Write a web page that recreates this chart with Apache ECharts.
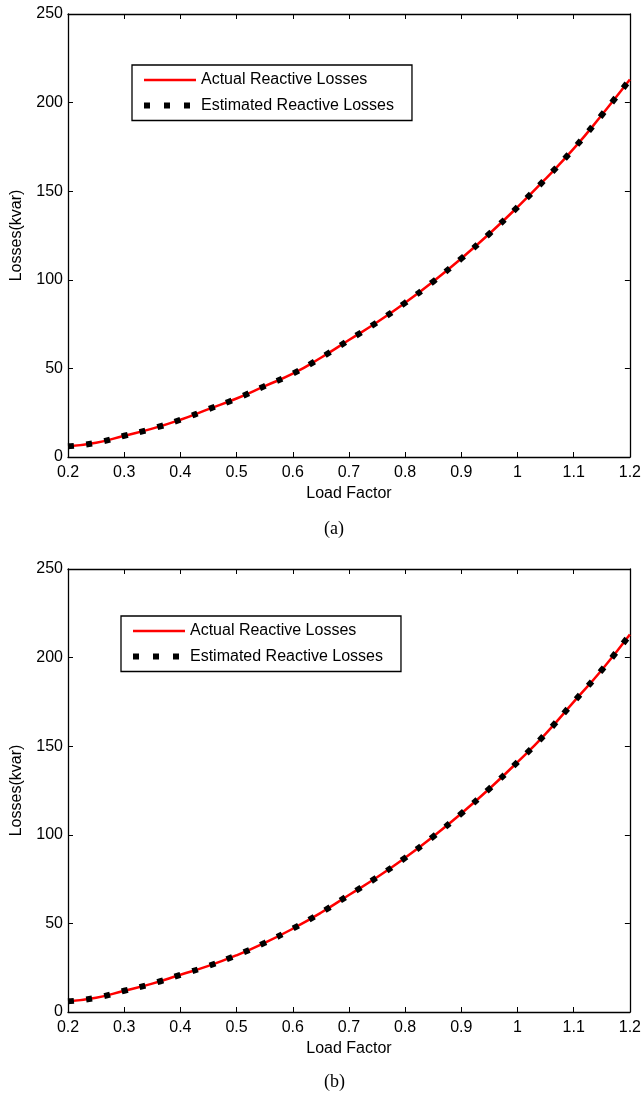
<!DOCTYPE html>
<html>
<head>
<meta charset="utf-8">
<script src="https://cdn.jsdelivr.net/npm/echarts@6/dist/echarts.min.js"></script>
<style>
html,body{margin:0;padding:0;background:#fff;}
#chart{width:644px;height:1095px;}
</style>
</head>
<body>
<div id="chart"></div>
<script>
// ---- data ----
const loadFactor = [0.2,0.25,0.3,0.35,0.4,0.45,0.5,0.55,0.6,0.65,0.7,0.75,0.8,0.85,0.9,0.95,1.0,1.05,1.1,1.15,1.2];
const actualA    = [6,8,12,16,21,27,33,40,47,56,66,76,87,99,112,126,141,157,174,193,213];
const estimatedA = [6,8,12,16,21,27,33,40,47,56,66,76,87,99,112,126,141,157,174,193,213];
const actualB    = [6,8,12,16,21,26,32,39,47,56,66,76,87,99,112,126,141,157,175,193,213];
const estimatedB = [6,8,12,16,21,26,32,39,47,56,66,76,87,99,112,126,141,157,175,193,213];
const xTicks = {min:0.2, max:1.2, interval:0.1};
const yTicks = {min:0, max:250, interval:50};
const nameActual = 'Actual Reactive Losses';
const nameEstimated = 'Estimated Reactive Losses';
const panelLabels = ['(a)', '(b)'];

const pairs = (xs, ys) => xs.map((x, i) => [x, ys[i]]);
const FONT = 'Liberation Sans, Arial, sans-serif';

const grids = [
  {left:68, right:13, top:14, height:443},
  {left:68, right:13, top:569, height:443}
];

const xAxes = [], yAxes = [];
grids.forEach((g, gi) => {
  const common = {
    type:'value', gridIndex:gi,
    axisLine:{show:true, onZero:false, lineStyle:{color:'#000', width:1.3}},
    axisTick:{show:true, inside:true, length:5, lineStyle:{color:'#000', width:1}},
    splitLine:{show:false}
  };
  xAxes.push(Object.assign({}, common, {
    position:'bottom', min:xTicks.min, max:xTicks.max, interval:xTicks.interval,
    axisLabel:{color:'#000', fontSize:16, fontFamily:FONT, margin:8},
    name:'Load Factor', nameLocation:'middle', nameGap:29,
    nameTextStyle:{color:'#000', fontSize:16, fontFamily:FONT}
  }));
  xAxes.push(Object.assign({}, common, {
    position:'top', min:xTicks.min, max:xTicks.max, interval:xTicks.interval,
    axisLabel:{show:false}
  }));
  yAxes.push(Object.assign({}, common, {
    position:'left', min:yTicks.min, max:yTicks.max, interval:yTicks.interval,
    axisLabel:{color:'#000', fontSize:16, fontFamily:FONT, margin:5},
    name:'Losses(kvar)', nameLocation:'middle', nameGap:43,
    nameTextStyle:{color:'#000', fontSize:16, fontFamily:FONT}
  }));
  yAxes.push(Object.assign({}, common, {
    position:'right', min:yTicks.min, max:yTicks.max, interval:yTicks.interval,
    axisLabel:{show:false}
  }));
});

const seriesData = [[actualA, estimatedA], [actualB, estimatedB]];
const series = [];
seriesData.forEach((d, gi) => {
  series.push({
    name:nameActual, type:'line', xAxisIndex:gi*2, yAxisIndex:gi*2,
    data:pairs(loadFactor, d[0]), smooth:true, symbol:'none',
    lineStyle:{color:'#ff0000', width:2.5}, itemStyle:{color:'#ff0000'}
  });
  series.push({
    name:nameEstimated, type:'line', xAxisIndex:gi*2, yAxisIndex:gi*2,
    data:pairs(loadFactor, d[1]), smooth:true, symbol:'none',
    lineStyle:{color:'#000', width:6, type:[6,12.3], cap:'butt'}, itemStyle:{color:'#000'}
  });
});

const legends = [
  {left:132, top:65, pad:[7,18,7,9]},
  {left:121, top:616, pad:[7,18,7,9]}
].map(l => ({
  orient:'vertical', left:l.left, top:l.top, padding:l.pad,
  itemWidth:52, itemHeight:14, itemGap:9.5,
  borderColor:'#000', borderWidth:1.3, backgroundColor:'#fff',
  textStyle:{color:'#000', fontSize:16, fontFamily:FONT, padding:[0,0,0,0]},
  itemStyle:{opacity:0, borderWidth:0},
  data:[
    {name:nameActual, itemStyle:{opacity:0}, lineStyle:{color:'#ff0000', width:2.5}},
    {name:nameEstimated, itemStyle:{opacity:0}, lineStyle:{color:'#000', width:6, type:[6,14], cap:'butt'}}
  ],
  selectedMode:false
}));

const option = {
  backgroundColor:'#fff',
  animation:false,
  grid:grids,
  xAxis:xAxes,
  yAxis:yAxes,
  legend:legends,
  series:series,
  graphic:[
    {type:'text', left:324, top:520, style:{text:panelLabels[0], font:'18px "Liberation Serif", "Times New Roman", serif', fill:'#000'}},
    {type:'text', left:324, top:1073, style:{text:panelLabels[1], font:'18px "Liberation Serif", "Times New Roman", serif', fill:'#000'}}
  ]
};

const chart = echarts.init(document.getElementById('chart'), null, {renderer:'canvas'});
chart.setOption(option);
</script>
</body>
</html>
